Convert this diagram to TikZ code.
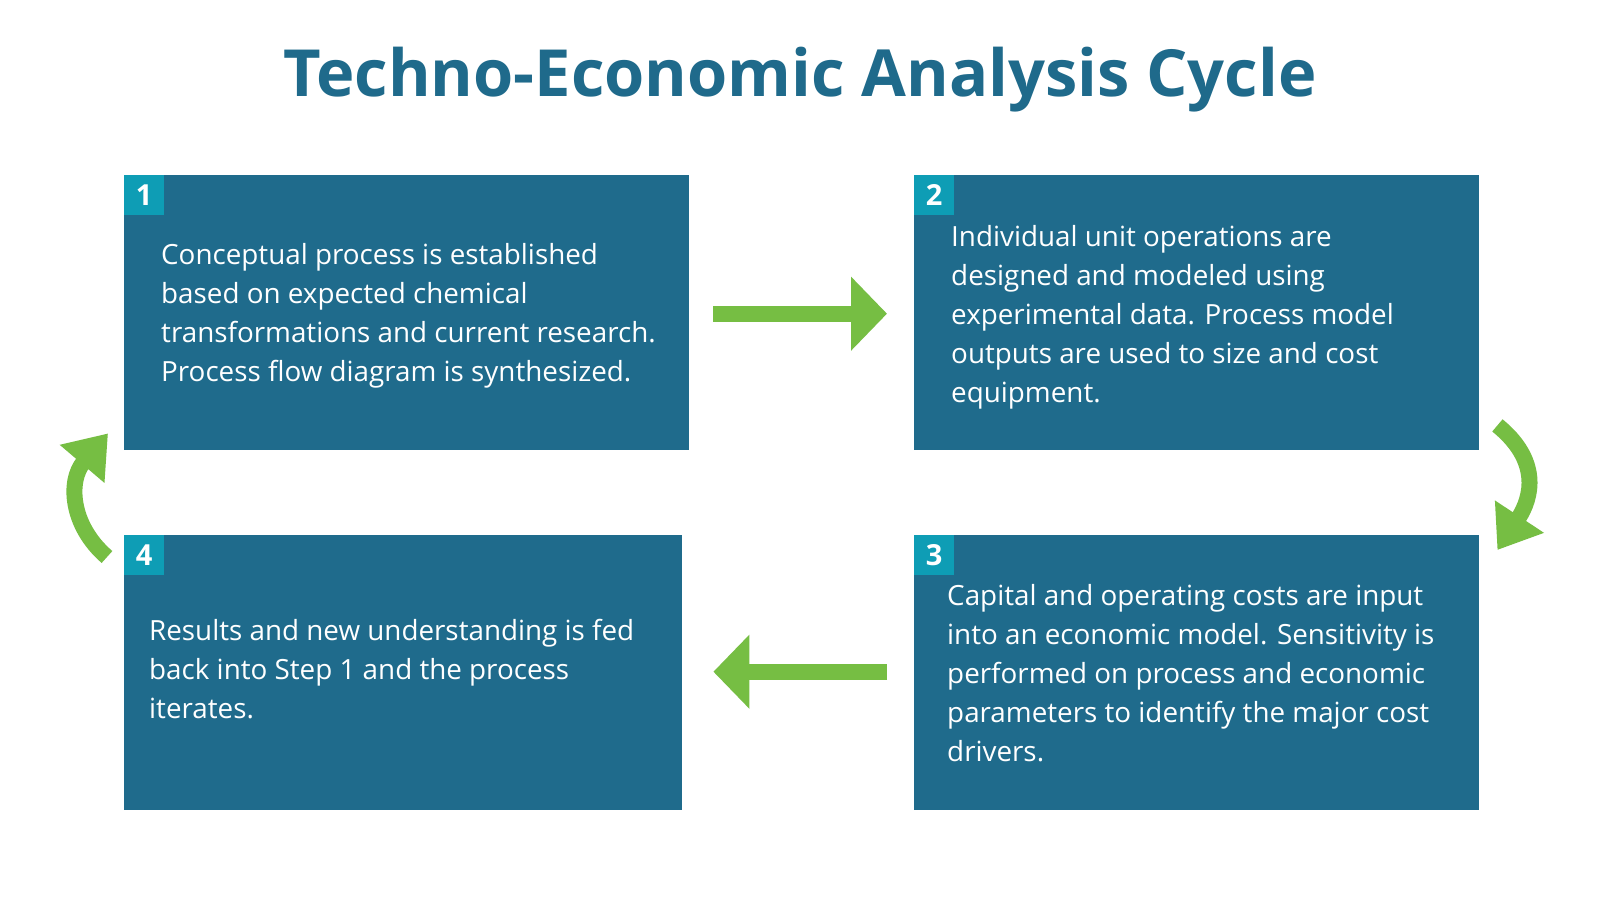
\documentclass[tikz,border=0pt]{standalone}
\usepackage{fontspec}
\setmainfont{Open Sans}
\usetikzlibrary{arrows.meta,calc,positioning}

\definecolor{boxblue}{HTML}{1F6B8C}
\definecolor{badgeteal}{HTML}{0E9DB5}
\definecolor{arrowgreen}{HTML}{76BE43}
\definecolor{titleblue}{HTML}{1F6A8B}

\tikzset{
	stepbox/.style = {fill = boxblue, draw = none, minimum width = 565pt, minimum height = 275pt, anchor = north west, inner sep = 0pt},
	badge/.style = {fill = badgeteal, minimum size = 40pt, inner sep = 0pt, anchor = north west, text = white, font = \fontsize{29}{29}\selectfont\bfseries},
	steptext/.style = {text = white, align = left, anchor = west, inner sep = 0pt, font = \fontsize{27.8}{39}\selectfont},
	fatarrow/.style = {draw = arrowgreen, line width = 16pt, -{Triangle[length = 36pt, width = 72pt]}},
	curvarrow/.style = {draw = arrowgreen, line width = 16pt, -{Triangle[length = 40pt, width = 56pt]}}
}

\begin{document}
\begin{tikzpicture}[x = 1pt, y = -1pt]
				%	canvas
				\useasboundingbox[fill = white] (0, 0) rectangle (1600, 900);
				
				%	title
				\node[text = titleblue, font = \fontsize{65}{65}\selectfont\bfseries] (title) at (800, 80) {Techno-Economic Analysis Cycle};
				
				%	boxes
				\node[stepbox] (b1) at (124, 175) {};
				\node[stepbox] (b2) at (914, 175) {};
				\node[stepbox] (b3) at (914, 535) {};
				\node[stepbox, minimum width = 558pt] (b4) at (124, 535) {};
				
				%	badges
				\node[badge] (n1) at (b1.north west) {1};
				\node[badge] (n2) at (b2.north west) {2};
				\node[badge] (n3) at (b3.north west) {3};
				\node[badge] (n4) at (b4.north west) {4};
				
				%	texts
				\node[steptext] (t1) at ($(b1.west) + (37, 3)$) {Conceptual process is established\\based on expected chemical\\transformations and current research.\\Process flow diagram is synthesized.};
				\node[steptext] (t2) at ($(b2.west) + (37, 5)$) {Individual unit operations are\\designed and modeled using\\experimental data. Process model\\outputs are used to size and cost\\equipment.};
				\node[steptext] (t3) at ($(b3.west) + (33, 0)$) {Capital and operating costs are input\\into an economic model. Sensitivity is\\performed on process and economic\\parameters to identify the major cost\\drivers.};
				\node[steptext] (t4) at ($(b4.west) + (25, -4)$) {Results and new understanding is fed\\back into Step 1 and the process\\iterates.};
				
				%	straight arrows
				\draw[fatarrow] ($(b1.east) + (24, 1)$) -- ($(b2.west) + (-27, 1)$);
				\draw[fatarrow] ($(b3.west) + (-27, -1)$) -- ($(b4.east) + (31, -1)$);
				
				%	curved arrows
				\coordinate (c2s) at ($(b2.south east) + (18, -25)$);
				\coordinate (c3e) at ($(b3.north east) + (18, 15)$);
				\coordinate (c4s) at ($(b4.north west) + (-17, 22)$);
				\coordinate (c1e) at ($(b1.south west) + (-16, -17)$);
				\draw[curvarrow] (c2s) .. controls +(43, 35) and +(35, -53) .. (c3e);
				\draw[curvarrow] (c4s) .. controls +(-37, -32) and +(-40, 47) .. (c1e);
\end{tikzpicture}
\end{document}
